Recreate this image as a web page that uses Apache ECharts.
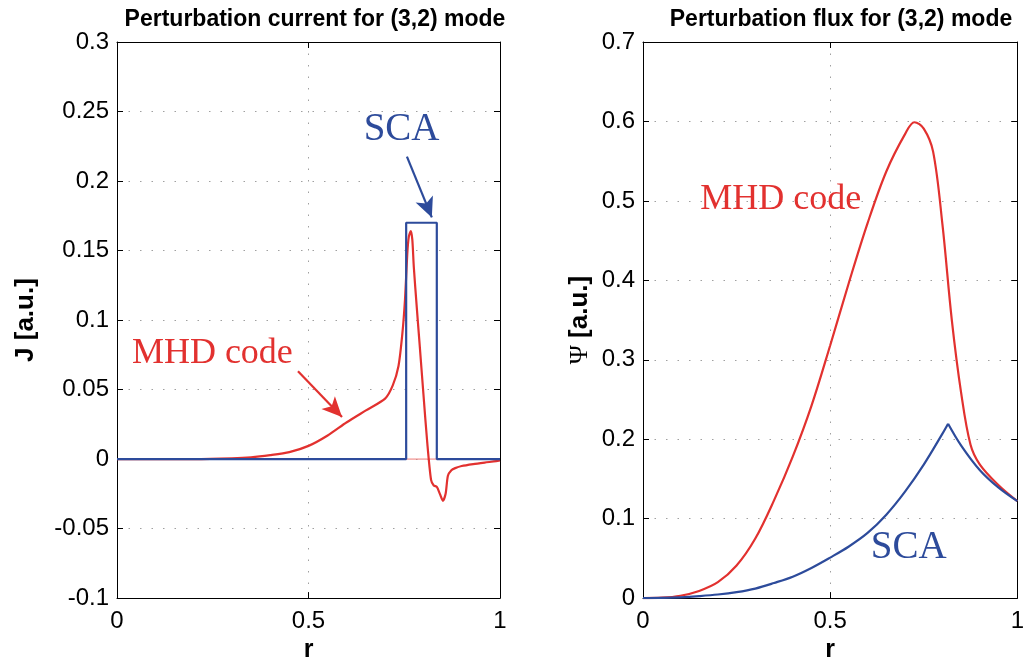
<!DOCTYPE html>
<html>
<head>
<meta charset="utf-8">
<script src="https://cdn.jsdelivr.net/npm/echarts@6/dist/echarts.min.js"></script>
<style>
html,body{margin:0;padding:0;background:#fff;}
#chart{width:1027px;height:668px;}
</style>
</head>
<body>
<div id="chart"></div>
<script>
// ---- Left panel: perturbation current J(r) ----
const jMhdR   = [0, 0.1, 0.2, 0.3, 0.35, 0.4, 0.45, 0.5, 0.55, 0.6, 0.65, 0.7, 0.72, 0.735, 0.745, 0.752, 0.758, 0.762, 0.767, 0.771, 0.775, 0.783, 0.79, 0.8, 0.81, 0.82, 0.827, 0.835, 0.843, 0.851, 0.858, 0.864, 0.873, 0.883, 0.9, 0.93, 0.96, 0.99, 1.0];
const jMhdVal = [0, 0, 0, 0.0005, 0.0012, 0.0028, 0.005, 0.0095, 0.017, 0.0265, 0.035, 0.0435, 0.053, 0.067, 0.09, 0.115, 0.148, 0.16, 0.164, 0.158, 0.138, 0.108, 0.083, 0.047, 0.012, -0.015, -0.019, -0.02, -0.025, -0.030, -0.025, -0.012, -0.008, -0.0065, -0.005, -0.0036, -0.0025, -0.0015, -0.001];
const jScaR   = [0, 0.755, 0.755, 0.835, 0.835, 1.0];
const jScaVal = [0, 0, 0.17, 0.17, 0, 0];

// ---- Right panel: perturbation flux Psi(r) ----
const psiMhdR   = [0, 0.05, 0.1, 0.15, 0.2, 0.25, 0.3, 0.35, 0.4, 0.45, 0.5, 0.55, 0.6, 0.65, 0.7, 0.725, 0.75, 0.775, 0.8, 0.825, 0.85, 0.875, 0.9, 0.95, 1.0];
const psiMhdVal = [0, 0.0005, 0.003, 0.009, 0.02, 0.041, 0.075, 0.123, 0.178, 0.242, 0.318, 0.397, 0.472, 0.537, 0.584, 0.599, 0.591, 0.562, 0.47, 0.35, 0.258, 0.193, 0.168, 0.142, 0.122];
const psiScaRiseR   = [0, 0.05, 0.1, 0.15, 0.2, 0.25, 0.3, 0.35, 0.4, 0.45, 0.5, 0.55, 0.6, 0.65, 0.7, 0.75, 0.8, 0.815];
const psiScaRiseVal = [0, 0.0002, 0.001, 0.0025, 0.0045, 0.0075, 0.012, 0.019, 0.027, 0.038, 0.051, 0.065, 0.082, 0.105, 0.134, 0.168, 0.207, 0.2195];
const psiScaFallR   = [0.815, 0.85, 0.9, 0.95, 1.0];
const psiScaFallVal = [0.2195, 0.192, 0.161, 0.139, 0.122];

// tick settings
const xTicks = {min: 0, max: 1, interval: 0.5};
const jTicks = {min: -0.1, max: 0.3, interval: 0.05};
const psiTicks = {min: 0, max: 0.7, interval: 0.1};

const RED = '#e2312f';
const BLUE = '#2d4b9b';
const pairs = (xs, ys) => xs.map((x, i) => [x, ys[i]]);

const SANS = 'Liberation Sans, Arial, Helvetica, sans-serif';
const SERIF = 'Liberation Serif, Times New Roman, serif';
const tickFont = {fontFamily: SANS, fontSize: 24, color: '#000'};
const gridSplit = {show: true, lineStyle: {color: '#a0a0a0', width: 1, type: [1.5, 10]}};
const axLine = {show: true, onZero: false, lineStyle: {color: '#000', width: 1}};
const tickIn = {show: true, inside: true, length: 6, lineStyle: {color: '#000'}};

function xMain(grid) {
  return {type: 'value', gridIndex: grid, position: 'bottom', ...xTicks,
    axisLine: axLine, axisTick: tickIn, splitLine: gridSplit,
    axisLabel: {...tickFont, margin: 11},
    name: 'r', nameLocation: 'middle', nameGap: 38,
    nameTextStyle: {fontFamily: SANS, fontWeight: 'bold', fontSize: 25, color: '#000'}};
}
function xTop(grid) {
  return {type: 'value', gridIndex: grid, position: 'top', ...xTicks,
    axisLine: axLine, axisTick: tickIn, splitLine: {show: false}, axisLabel: {show: false}};
}
function yMain(grid, ticks, name, gap) {
  return {type: 'value', gridIndex: grid, position: 'left', ...ticks,
    axisLine: axLine, axisTick: tickIn, splitLine: gridSplit,
    axisLabel: {...tickFont, margin: 8},
    name: name, nameLocation: 'middle', nameGap: gap, nameRotate: 90,
    nameTextStyle: {fontFamily: SANS, fontWeight: 'bold', fontSize: 26, color: '#000',
      rich: {psi: {fontFamily: SERIF, fontWeight: 'normal', fontSize: 26, color: '#000'},
             b: {fontFamily: SANS, fontWeight: 'bold', fontSize: 26, color: '#000'}}}};
}
function yRight(grid, ticks) {
  return {type: 'value', gridIndex: grid, position: 'right', ...ticks,
    axisLine: axLine, axisTick: tickIn, splitLine: {show: false}, axisLabel: {show: false}};
}

const annoLabel = (text, color, size) => ({show: true, position: 'inside', formatter: text, color: color,
  fontFamily: SERIF, fontSize: size});
const annoPoint = (text, color, size, coord) => ({silent: true, symbol: 'rect', symbolSize: 1,
  itemStyle: {color: 'rgba(0,0,0,0)'}, label: annoLabel(text, color, size), data: [{coord: coord}]});
const annoArrow = (color, from, to) => ({silent: true, symbol: ['none', 'arrow'], symbolSize: [14, 20],
  label: {show: false}, lineStyle: {color: color, width: 2.2, type: 'solid'},
  data: [[{coord: from}, {coord: to}]]});

const option = {
  animation: false,
  backgroundColor: '#fff',
  title: [
    {text: 'Perturbation current for (3,2) mode', left: 310, top: 3, textAlign: 'center',
      textStyle: {fontFamily: SANS, fontWeight: 'bold', fontSize: 23, color: '#000'}},
    {text: 'Perturbation flux for (3,2) mode', left: 836, top: 3, textAlign: 'center',
      textStyle: {fontFamily: SANS, fontWeight: 'bold', fontSize: 23, color: '#000'}}
  ],
  grid: [
    {left: 117, top: 42, width: 383, height: 557, containLabel: false},
    {left: 643, top: 42, width: 383, height: 557, containLabel: false}
  ],
  xAxis: [xMain(0), xTop(0), xMain(1), xTop(1)],
  yAxis: [
    yMain(0, jTicks, 'J [a.u.]', 78),
    yRight(0, jTicks),
    yMain(1, psiTicks, '{psi|Ψ} {b|[a.u.]}', 50),
    yRight(1, psiTicks)
  ],
  series: [
    {name: 'MHD zero', type: 'line', xAxisIndex: 0, yAxisIndex: 0, showSymbol: false, silent: true,
      data: pairs([0, 1], [0, 0]), lineStyle: {color: '#ee7a78', width: 1}},
    {name: 'MHD code J', type: 'line', xAxisIndex: 0, yAxisIndex: 0, showSymbol: false,
      smooth: 0.25,
      data: pairs(jMhdR, jMhdVal), lineStyle: {color: RED, width: 2.2},
      markPoint: annoPoint('MHD code', RED, 36, [0.249, 0.076]),
      markLine: annoArrow(RED, [0.4726, 0.0632], [0.5875, 0.0302])},
    {name: 'SCA J', type: 'line', xAxisIndex: 0, yAxisIndex: 0, showSymbol: false,
      data: pairs(jScaR, jScaVal), lineStyle: {color: BLUE, width: 2.2},
      markPoint: annoPoint('SCA', BLUE, 39, [0.743, 0.237]),
      markLine: annoArrow(BLUE, [0.757, 0.2176], [0.822, 0.1738])},
    {name: 'MHD code Psi', type: 'line', xAxisIndex: 2, yAxisIndex: 2, showSymbol: false,
      smooth: 0.35,
      data: pairs(psiMhdR, psiMhdVal), lineStyle: {color: RED, width: 2.2},
      markPoint: annoPoint('MHD code', RED, 36, [0.368, 0.5014])},
    {name: 'SCA Psi rise', type: 'line', xAxisIndex: 2, yAxisIndex: 2, showSymbol: false,
      smooth: 0.35,
      data: pairs(psiScaRiseR, psiScaRiseVal), lineStyle: {color: BLUE, width: 2.2},
      markPoint: annoPoint('SCA', BLUE, 39, [0.710, 0.0635])},
    {name: 'SCA Psi fall', type: 'line', xAxisIndex: 2, yAxisIndex: 2, showSymbol: false,
      smooth: 0.35,
      data: pairs(psiScaFallR, psiScaFallVal), lineStyle: {color: BLUE, width: 2.2}}
  ]
};

const chart = echarts.init(document.getElementById('chart'), null, {renderer: 'canvas'});
chart.setOption(option);
</script>
</body>
</html>
